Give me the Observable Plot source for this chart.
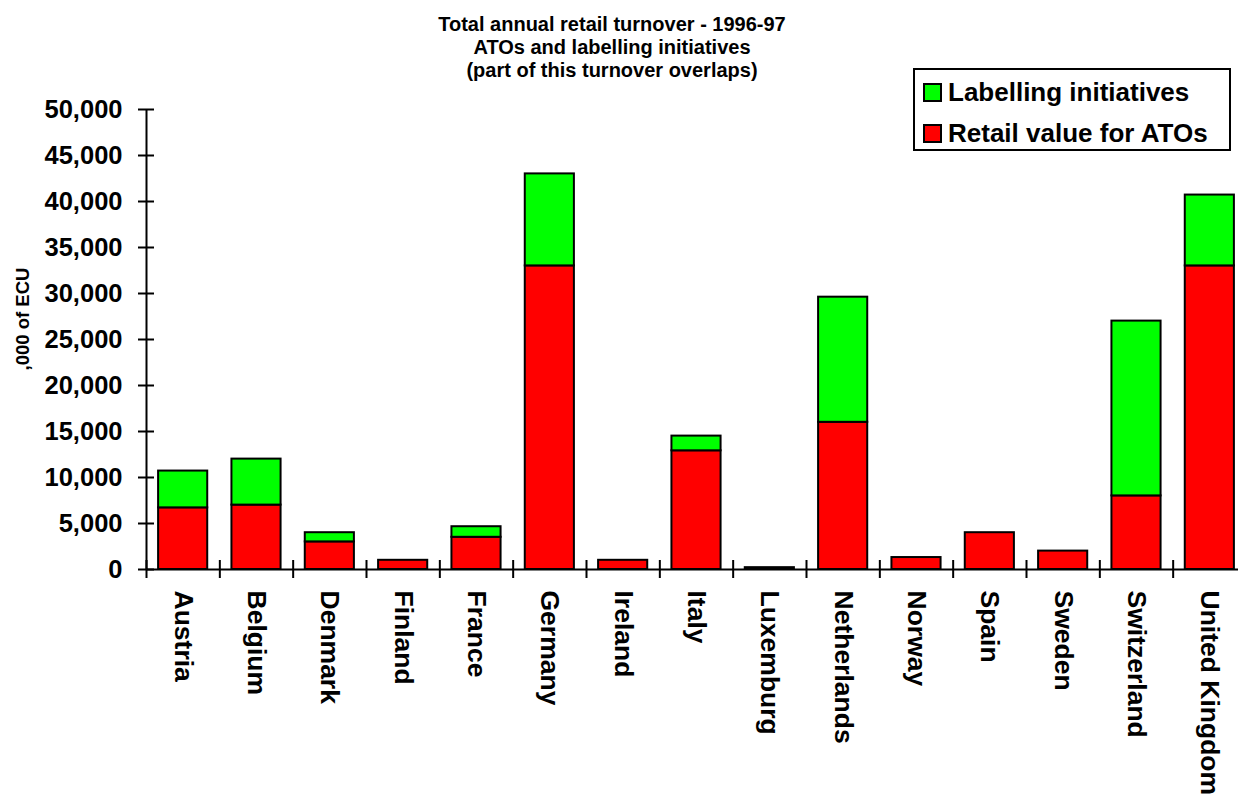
<!DOCTYPE html>
<html>
<head>
<meta charset="utf-8">
<script src="https://cdn.jsdelivr.net/npm/d3@7"></script>
<script src="https://cdn.jsdelivr.net/npm/@observablehq/plot@0.6"></script>
<style>
  html, body { margin: 0; padding: 0; background: #fff; }
  #wrap { position: relative; width: 1238px; height: 796px; overflow: hidden; font-family: "Liberation Sans", Arial, sans-serif; }
  #title { position: absolute; left: 362px; top: 13px; width: 500px; text-align: center; font-weight: bold; font-size: 20px; line-height: 23px; color: #000; }
  #ylabel { position: absolute; left: -77px; top: 308px; width: 200px; height: 22px; line-height: 22px; text-align: center; font-weight: bold; font-size: 18.5px; transform: rotate(-90deg); transform-origin: 50% 50%; white-space: nowrap; }
  #legend { position: absolute; left: 913px; top: 68px; width: 318px; height: 83px; box-sizing: border-box; border: 2px solid #000; background: #fff; padding-top: 2px; }
  .row { display: flex; align-items: center; height: 41px; font-weight: bold; font-size: 26px; line-height: 41px; white-space: nowrap; }
  .sw { width: 15px; height: 15px; border: 2px solid #000; margin-left: 8px; margin-right: 6px; flex: none; }
</style>
</head>
<body>
<div id="wrap">
  <div id="chart"></div>
  <div id="title"></div>
  <div id="ylabel"></div>
  <div id="legend"></div>
</div>
<script>
// Data (thousands of ECU)
const countries = ["Austria", "Belgium", "Denmark", "Finland", "France", "Germany", "Ireland", "Italy", "Luxemburg", "Netherlands", "Norway", "Spain", "Sweden", "Switzerland", "United Kingdom"];
const retailATO = [6700, 7000, 3000, 1000, 3500, 33000, 1000, 12900, 200, 16000, 1300, 4000, 2000, 8000, 33000];
const labelling = [4000, 5000, 1000, 0, 1150, 10000, 0, 1600, 0, 13600, 0, 0, 0, 19000, 7700];
const yTicks = [0, 5000, 10000, 15000, 20000, 25000, 30000, 35000, 40000, 45000, 50000];
const seriesNames = ["Labelling initiatives", "Retail value for ATOs"];
const seriesColors = ["#00ff00", "#ff0000"];
const titleLines = ["Total annual retail turnover - 1996-97", "ATOs and labelling initiatives", "(part of this turnover overlaps)"];
const yLabel = ",000 of ECU";

const rows = countries.map((c, i) => ({country: c, i, retail: retailATO[i], label: labelling[i]}));
const boundaries = d3.range(countries.length + 1);
const pad = 0.165;

const plot = Plot.plot({
  width: 1238,
  height: 796,
  marginLeft: 146,
  marginRight: 0,
  marginTop: 109,
  marginBottom: 227,
  x: {domain: [0, countries.length], range: [146, 1246], axis: null},
  y: {domain: [0, 50000], axis: null},
  style: {fontFamily: "'Liberation Sans', Arial, sans-serif", fontWeight: "bold", color: "#000", overflow: "visible", background: "#fff"},
  marks: [
    Plot.rectY(rows, {x1: d => d.i + pad, x2: d => d.i + 1 - pad, y1: 0, y2: "retail", fill: seriesColors[1], stroke: "#000", strokeWidth: 2}),
    Plot.rectY(rows.filter(d => d.label > 0), {x1: d => d.i + pad, x2: d => d.i + 1 - pad, y1: "retail", y2: d => d.retail + d.label, fill: seriesColors[0], stroke: "#000", strokeWidth: 2}),
    // axis lines
    Plot.ruleX([0], {x: d => d, y1: 0, y2: 50000, stroke: "#000", strokeWidth: 2}),
    Plot.ruleY([0], {y: d => d, x1: 0, x2: countries.length, stroke: "#000", strokeWidth: 2}),
    // y ticks crossing the axis
    Plot.ruleY(yTicks, {y: d => d, x1: 0, x2: 0, insetLeft: -8, insetRight: -8, stroke: "#000", strokeWidth: 2}),
    // x ticks at category boundaries crossing the axis
    Plot.ruleX(boundaries, {x: d => d, y1: 0, y2: 0, insetTop: -9, insetBottom: -9, stroke: "#000", strokeWidth: 2}),
    // y tick labels
    Plot.text(yTicks, {x: 0, y: d => d, text: d => d3.format(",")(d), textAnchor: "end", dx: -24, fontSize: 25.5, fontWeight: "bold", fill: "#000"}),
    // x category labels
    Plot.text(rows, {x: d => d.i + 0.5, y: 0, text: "country", rotate: 90, textAnchor: "start", dy: 21, fontSize: 26.5, fontWeight: "bold", fill: "#000"})
  ]
});
document.getElementById("chart").appendChild(plot);

document.getElementById("title").innerHTML = titleLines.map(t => `<div>${t}</div>`).join("");
document.getElementById("ylabel").textContent = yLabel;
document.getElementById("legend").innerHTML = seriesNames.map((n, k) =>
  `<div class="row"><span class="sw" style="background:${seriesColors[k]}"></span><span>${n}</span></div>`).join("");
</script>
</body>
</html>
